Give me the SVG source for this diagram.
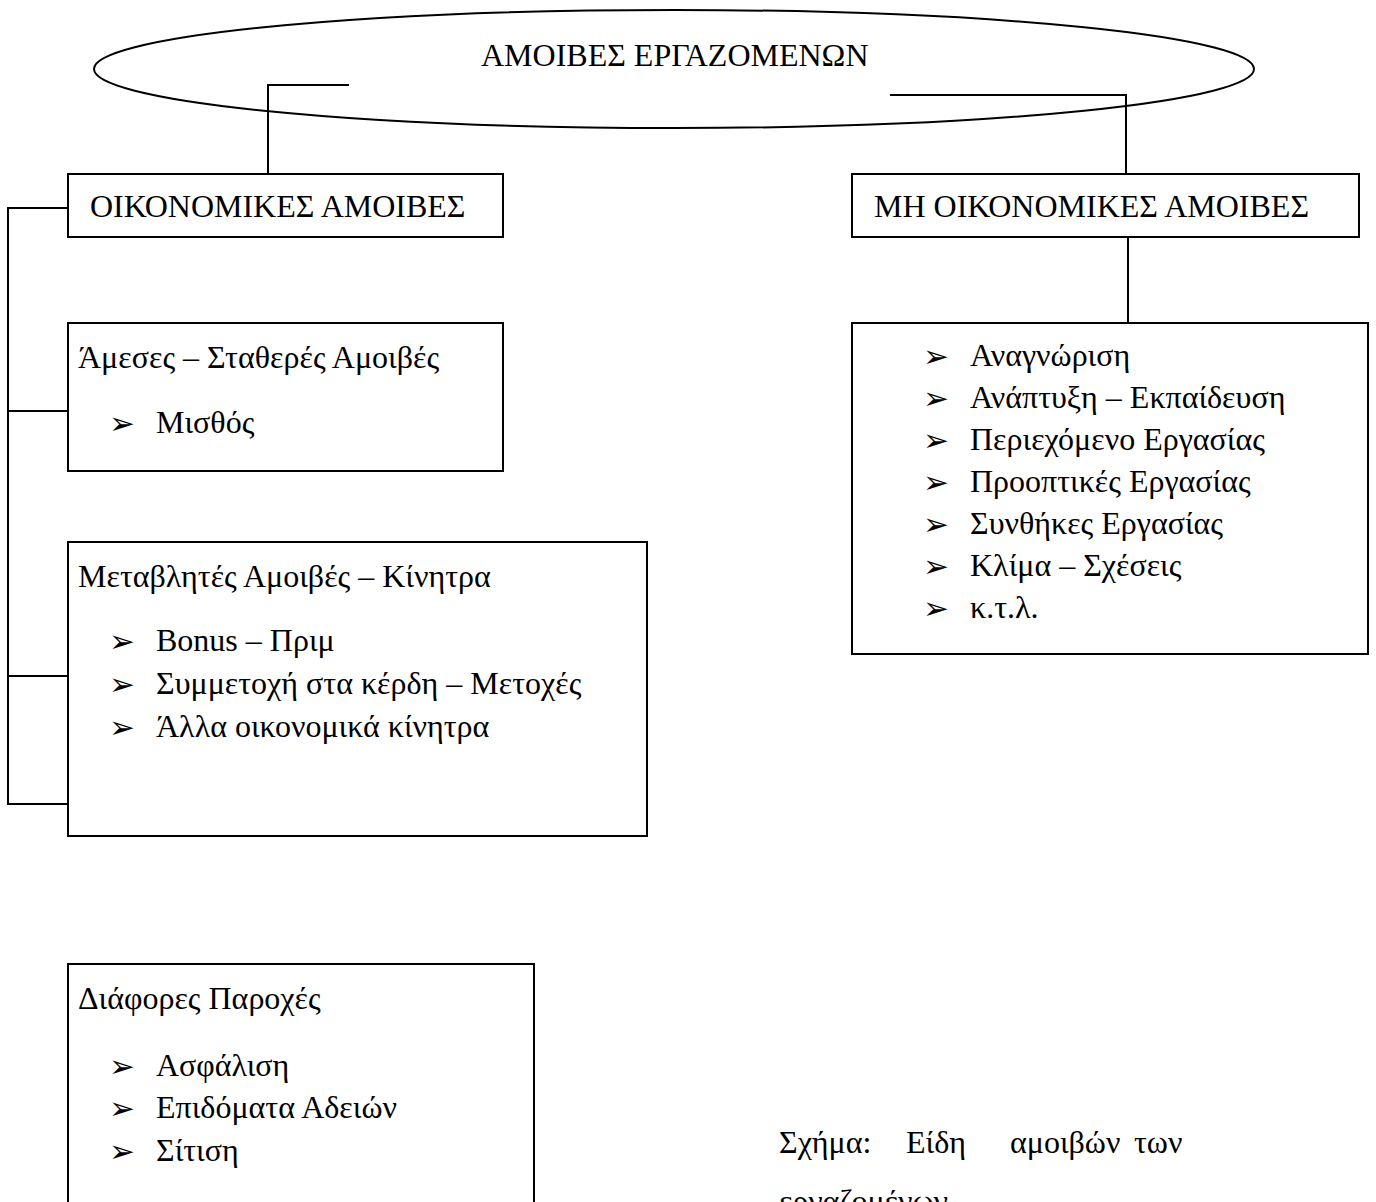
<svg xmlns="http://www.w3.org/2000/svg" width="1376" height="1202" viewBox="0 0 1376 1202">
<style>
.box{fill:#fff;stroke:#000;stroke-width:2}
.ln{fill:none;stroke:#000;stroke-width:2}
.t{font-family:"Liberation Serif","Times New Roman",serif;font-size:32px;fill:#000}
.b{font-family:"DejaVu Sans",sans-serif;font-size:31px;fill:#000}
</style>
<rect width="1376" height="1202" fill="#fff"/>
<g id="root">
<ellipse cx="674" cy="69" rx="580" ry="59" class="ln"/>
<text class="t" x="481" y="66">ΑΜΟΙΒΕΣ ΕΡΓΑΖΟΜΕΝΩΝ</text>
</g>
<g id="connectors">
<polyline class="ln" points="349,85 268,85 268,174"/>
<polyline class="ln" points="890,95 1126,95 1126,174"/>
<line class="ln" x1="1128" y1="237" x2="1128" y2="323"/>
<polyline class="ln" points="68,208 8,208 8,804 68,804"/>
<line class="ln" x1="8" y1="411" x2="68" y2="411"/>
<line class="ln" x1="8" y1="676" x2="68" y2="676"/>
</g>
<g id="oikonomikes">
<rect class="box" x="68" y="174" width="435" height="63"/>
<text class="t" x="90" y="217">ΟΙΚΟΝΟΜΙΚΕΣ ΑΜΟΙΒΕΣ</text>
</g>
<g id="mi-oikonomikes">
<rect class="box" x="852" y="174" width="507" height="63"/>
<text class="t" x="874" y="217">ΜΗ ΟΙΚΟΝΟΜΙΚΕΣ ΑΜΟΙΒΕΣ</text>
</g>
<g id="ameses">
<rect class="box" x="68" y="323" width="435" height="148"/>
<text class="t" x="78" y="368">Άμεσες – Σταθερές Αμοιβές</text>
<text class="b" x="109" y="434">➢</text>
<text class="t" x="156" y="433">Μισθός</text>
</g>
<g id="metavlites">
<rect class="box" x="68" y="542" width="579" height="294"/>
<text class="t" x="78" y="587">Μεταβλητές Αμοιβές – Κίνητρα</text>
<text class="b" x="109" y="652">➢</text>
<text class="t" x="156" y="651">Bonus – Πριμ</text>
<text class="b" x="109" y="695">➢</text>
<text class="t" x="156" y="694">Συμμετοχή στα κέρδη – Μετοχές</text>
<text class="b" x="109" y="738">➢</text>
<text class="t" x="156" y="737">Άλλα οικονομικά κίνητρα</text>
</g>
<g id="diafores">
<rect class="box" x="68" y="964" width="466" height="250"/>
<text class="t" x="78" y="1009">Διάφορες Παροχές</text>
<text class="b" x="109" y="1077">➢</text>
<text class="t" x="156" y="1076">Ασφάλιση</text>
<text class="b" x="109" y="1119">➢</text>
<text class="t" x="156" y="1118">Επιδόματα Αδειών</text>
<text class="b" x="109" y="1162">➢</text>
<text class="t" x="156" y="1161">Σίτιση</text>
</g>
<g id="mi-list">
<rect class="box" x="852" y="323" width="516" height="331"/>
<text class="b" x="923" y="367">➢</text><text class="t" x="970" y="366">Αναγνώριση</text>
<text class="b" x="923" y="409">➢</text><text class="t" x="970" y="408">Ανάπτυξη – Εκπαίδευση</text>
<text class="b" x="923" y="451">➢</text><text class="t" x="970" y="450">Περιεχόμενο Εργασίας</text>
<text class="b" x="923" y="493">➢</text><text class="t" x="970" y="492">Προοπτικές Εργασίας</text>
<text class="b" x="923" y="535">➢</text><text class="t" x="970" y="534">Συνθήκες Εργασίας</text>
<text class="b" x="923" y="577">➢</text><text class="t" x="970" y="576">Κλίμα – Σχέσεις</text>
<text class="b" x="923" y="619">➢</text><text class="t" x="970" y="618">κ.τ.λ.</text>
</g>
<g id="caption">
<text class="t" y="1153"><tspan x="779">Σχήμα:</tspan><tspan x="906">Είδη</tspan><tspan x="1010">αμοιβών</tspan><tspan x="1134">των</tspan></text>
<text class="t" x="779" y="1212">εργαζομένων</text>
</g>
</svg>
